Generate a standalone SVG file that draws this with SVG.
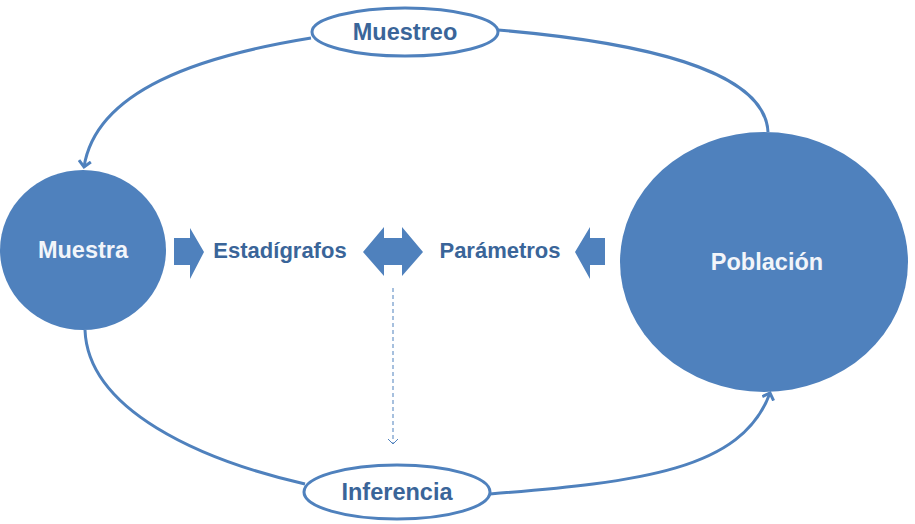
<svg xmlns="http://www.w3.org/2000/svg" width="915" height="524" viewBox="0 0 915 524">
<style>
.lbl{font-family:"Liberation Sans",Arial,sans-serif;font-weight:bold;font-size:22px;fill:#3A6599;text-anchor:middle}
.big{font-size:23.5px}
.wl{fill:#F2F5FA}
.oval{fill:#FFFFFF;stroke:#4F81BD;stroke-width:3}
.fill{fill:#4F81BD}
.conn{fill:none;stroke:#4F81BD;stroke-width:3}
.dash{fill:none;stroke:#4F81BD;stroke-width:1;stroke-dasharray:4,3}
</style>
<defs>
<marker id="ah" markerWidth="14" markerHeight="14" refX="7" refY="7" orient="auto" markerUnits="userSpaceOnUse">
<path d="M1,1 L7,7 L1,13" fill="none" stroke="#4F81BD" stroke-width="3"/>
</marker>
<marker id="ahs" markerWidth="12" markerHeight="12" refX="6" refY="6" orient="auto" markerUnits="userSpaceOnUse">
<path d="M1,1 L6,6 L1,11" fill="none" stroke="#4F81BD" stroke-width="1"/>
</marker>
</defs>
<rect width="915" height="524" fill="#FFFFFF"/>
<g id="connectors">
<path class="conn" d="M311,38 C200,56 96,90 84,167" marker-end="url(#ah)"/>
<path class="conn" d="M768,132 C765,70 640,42 498,30"/>
<path class="conn" d="M85,330 C88,410 200,460 305,484"/>
<path class="conn" d="M490,494 C640,482 742,470 770,393" marker-end="url(#ah)"/>
<path class="dash" d="M393,288 L393,444" marker-end="url(#ahs)"/>
</g>
<g id="muestreo">
<ellipse class="oval" cx="405" cy="32" rx="93" ry="24"/>
<text class="lbl big" x="405" y="40">Muestreo</text>
</g>
<g id="inferencia">
<ellipse class="oval" cx="397" cy="492" rx="93" ry="27"/>
<text class="lbl big" x="397" y="500">Inferencia</text>
</g>
<g id="muestra">
<ellipse class="fill" cx="83" cy="250" rx="83" ry="80"/>
<text class="lbl big wl" x="83" y="258">Muestra</text>
</g>
<g id="poblacion">
<ellipse class="fill" cx="764" cy="262" rx="144" ry="130"/>
<text class="lbl big wl" x="767" y="270">Población</text>
</g>
<g id="arrow-right">
<path class="fill" d="M174,238 L190,238 L190,228 L204,252 L190,279 L190,265 L174,265 Z"/>
</g>
<g id="estadigrafos">
<text class="lbl" x="280" y="258">Estadígrafos</text>
</g>
<g id="arrow-double">
<path class="fill" d="M363,252 L384,227 L384,238 L402,238 L402,227 L423,252 L402,276 L402,265 L384,265 L384,276 Z"/>
</g>
<g id="parametros">
<text class="lbl" x="500" y="258">Parámetros</text>
</g>
<g id="arrow-left">
<path class="fill" d="M575,252 L590,227 L590,238 L605,238 L605,265 L590,265 L590,279 Z"/>
</g>
</svg>
